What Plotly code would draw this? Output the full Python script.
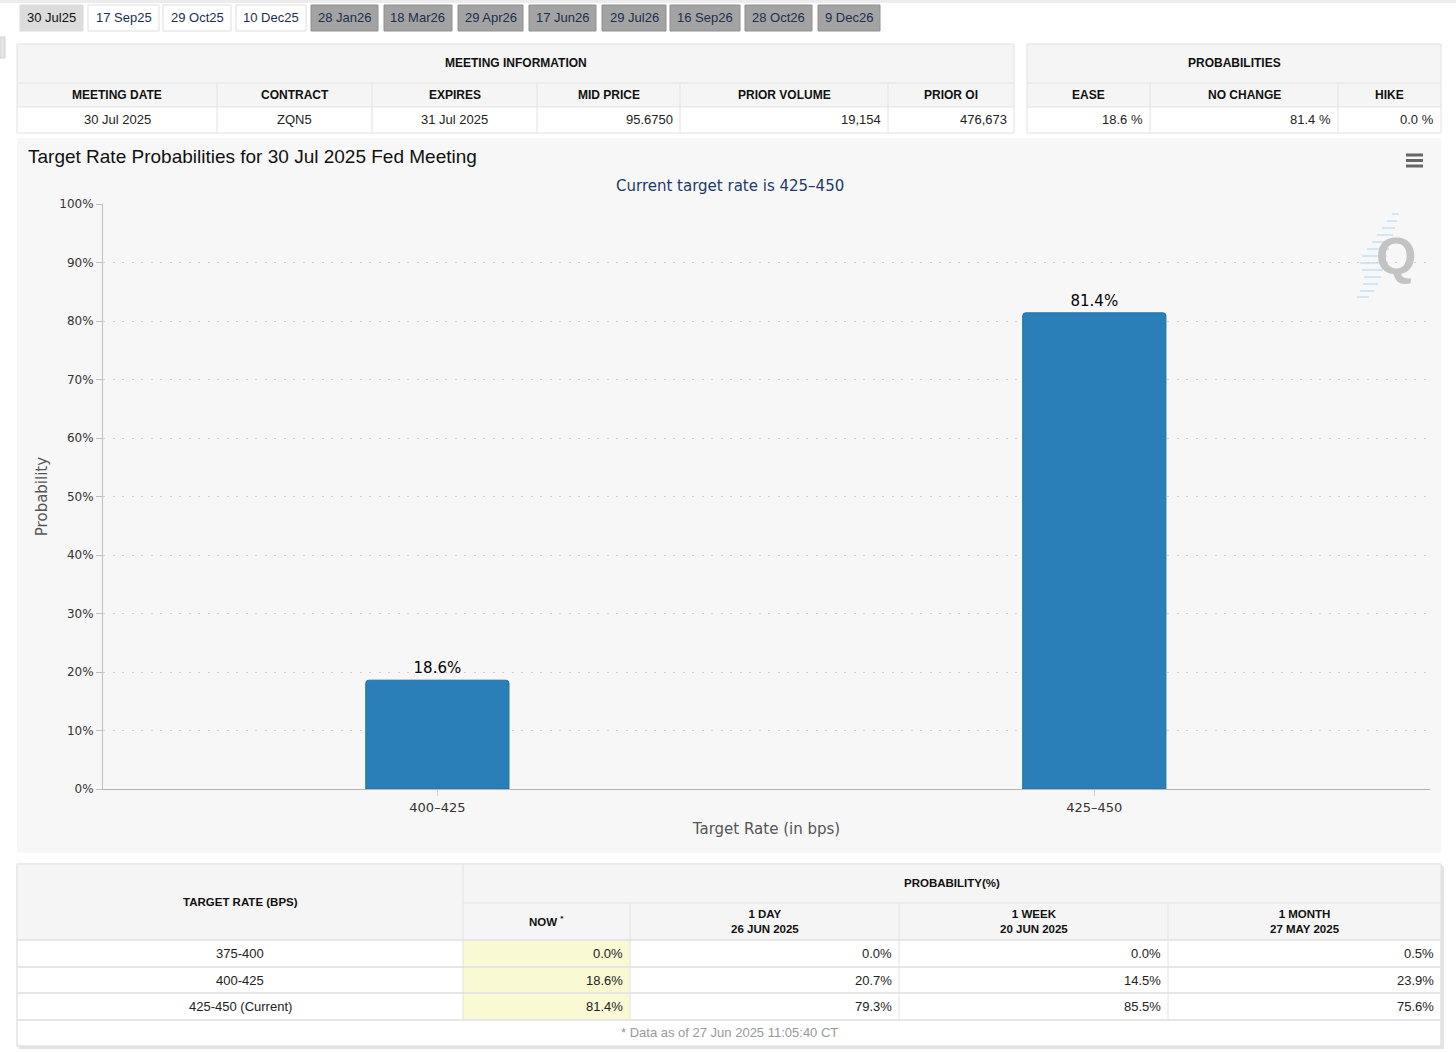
import plotly.graph_objects as go

W, H = 1456, 1052

# ---------------- data ----------------
meeting_tabs = ["30 Jul25", "17 Sep25", "29 Oct25", "10 Dec25", "28 Jan26", "18 Mar26",
                "29 Apr26", "17 Jun26", "29 Jul26", "16 Sep26", "28 Oct26", "9 Dec26"]
meeting_title = "MEETING INFORMATION"
meeting_headers = ["MEETING DATE", "CONTRACT", "EXPIRES", "MID PRICE", "PRIOR VOLUME", "PRIOR OI"]
meeting_values = ["30 Jul 2025", "ZQN5", "31 Jul 2025", "95.6750", "19,154", "476,673"]
prob_title = "PROBABILITIES"
prob_headers = ["EASE", "NO CHANGE", "HIKE"]
prob_values = [18.6, 81.4, 0.0]

chart_title = "Target Rate Probabilities for 30 Jul 2025 Fed Meeting"
chart_subtitle = "Current target rate is 425–450"
categories = ["400–425", "425–450"]
probabilities = [18.6, 81.4]
y_ticks = [0, 10, 20, 30, 40, 50, 60, 70, 80, 90, 100]
y_tick_labels = [f"{v}%" for v in y_ticks]

target_rates = ["375-400", "400-425", "425-450 (Current)"]
prob_now = [0.0, 18.6, 81.4]
prob_1day = [0.0, 20.7, 79.3]
prob_1week = [0.0, 14.5, 85.5]
prob_1month = [0.5, 23.9, 75.6]
period_headers = ["NOW <sup>*</sup>", "1 DAY<br>26 JUN 2025", "1 WEEK<br>20 JUN 2025", "1 MONTH<br>27 MAY 2025"]
footer_note = "* Data as of 27 Jun 2025 11:05:40 CT"

# ---------------- layout helpers ----------------
TXT = "Liberation Sans, Arial, sans-serif"
CH = "DejaVu Sans, Verdana, sans-serif"
shapes = []
annots = []


def X(px):
    return px / W


def Y(py):
    return 1 - py / H


def rect(x0, y0, x1, y1, fill, line="rgba(0,0,0,0)", lw=1, layer="below"):
    shapes.append(dict(type="rect", xref="paper", yref="paper", x0=X(x0), x1=X(x1),
                       y0=Y(y1), y1=Y(y0), fillcolor=fill, layer=layer,
                       line=dict(color=line, width=lw)))


def line(x0, y0, x1, y1, color, lw=1, layer="below"):
    shapes.append(dict(type="line", xref="paper", yref="paper", x0=X(x0), x1=X(x1),
                       y0=Y(y0), y1=Y(y1), layer=layer, line=dict(color=color, width=lw)))


def text(px, py, s, anchor="center", size=13, color="#222", family=TXT):
    annots.append(dict(xref="paper", yref="paper", x=X(px), y=Y(py), text=s, showarrow=False,
                       xanchor=anchor, yanchor="middle", font=dict(family=family, size=size, color=color)))


# top shadow line
rect(0, 0, W, 3, "#ececec")
# small left tab
rect(0, 37, 5, 58, "#e4e4e4", "#d0d0d0")

# ---------------- meeting tabs ----------------
tab_edges = [(20, 83), (88, 159), (163, 231), (236, 306), (311, 378), (384, 452),
             (458, 523), (529, 596), (602, 666), (670, 740), (745, 812), (818, 880)]
for i, (lab, (a, b)) in enumerate(zip(meeting_tabs, tab_edges)):
    if i == 0:
        fill, border, col = "#dcdcdc", "#dcdcdc", "#111"
    elif i <= 3:
        fill, border, col = "#ffffff", "#dedede", "#1b2f50"
    else:
        fill, border, col = "#a3a3a3", "#8f8f8f", "#1b2f50"
    rect(a, 5, b, 31, fill, border)
    text((a + b) / 2, 17, lab, size=13, color=col)

# ---------------- meeting info table ----------------
BORDER = "#e2e2e2"
HEAD = "#f5f5f5"
m_edges = [17, 217, 372, 537, 680, 888, 1014]
rect(17, 44, 1014, 83, HEAD)
rect(17, 83, 1014, 107, HEAD)
rect(17, 107, 1014, 133, "#ffffff")
rect(17, 44, 1014, 133, "rgba(0,0,0,0)", BORDER)
line(17, 83, 1014, 83, BORDER)
line(17, 107, 1014, 107, BORDER)
for e in m_edges[1:-1]:
    line(e, 83, e, 133, BORDER)
text((17 + 1014) / 2, 63, "<b>" + meeting_title + "</b>", size=12, color="#111")
for i, (h, v) in enumerate(zip(meeting_headers, meeting_values)):
    a, b = m_edges[i], m_edges[i + 1]
    text((a + b) / 2, 95, "<b>" + h + "</b>", size=12, color="#111")
    if i < 3:
        text((a + b) / 2, 120, v, size=13)
    else:
        text(b - 5, 120, v, anchor="right", size=13)

# ---------------- probabilities table ----------------
p_edges = [1027, 1150, 1338, 1441]
rect(1027, 44, 1441, 83, HEAD)
rect(1027, 83, 1441, 107, HEAD)
rect(1027, 107, 1441, 133, "#ffffff")
rect(1027, 44, 1441, 133, "rgba(0,0,0,0)", BORDER)
line(1027, 83, 1441, 83, BORDER)
line(1027, 107, 1441, 107, BORDER)
for e in p_edges[1:-1]:
    line(e, 83, e, 133, BORDER)
text((1027 + 1441) / 2, 63, "<b>" + prob_title + "</b>", size=12, color="#111")
for i, (h, v) in enumerate(zip(prob_headers, prob_values)):
    a, b = p_edges[i], p_edges[i + 1]
    text((a + b) / 2, 95, "<b>" + h + "</b>", size=12, color="#111")
    text(b - 5, 120, f"{v:.1f} %", anchor="right", size=13)

# ---------------- chart container ----------------
rect(17, 138, 1441, 853, "#f7f7f7")
text(26, 157, chart_title, anchor="left", size=19, color="#111")
text(730, 186, chart_subtitle, size=15, color="#1c3a6c", family=CH)
for yy in (155, 160.5, 166):
    line(1406, yy, 1423, yy, "#666", lw=3)

# watermark logo
streaks = [(1392, 1399, 214), (1387, 1397, 221), (1382, 1395, 228), (1377, 1393, 235),
           (1372, 1391, 242), (1367, 1389, 249), (1362, 1387, 256), (1360, 1385, 263),
           (1362, 1383, 270), (1364, 1381, 277), (1363, 1378, 284), (1360, 1374, 291),
           (1357, 1369, 297)]
for a, b, yy in streaks:
    line(a, yy, b, yy, "#cfe6f7", lw=2)
text(1396, 256, "<b>Q</b>", size=52, color="#c3c3c3", family=TXT)

# ---------------- bottom table ----------------
b_edges = [17, 463, 630, 899, 1168, 1441]
row_y = [940, 967, 993, 1020]
rect(19, 866, 1444, 1049, "#e4e4e4")  # shadow
rect(17, 864, 1441, 1046, "#ffffff", BORDER)
rect(17, 864, 1441, 940, HEAD)
for i in range(3):
    rect(463, row_y[i], 630, row_y[i + 1], "#f9f9d3")
rect(17, 864, 1441, 1046, "rgba(0,0,0,0)", BORDER)
line(463, 903, 1441, 903, BORDER)
for yy in row_y:
    line(17, yy, 1441, yy, "#e6e6e6", lw=2)
line(463, 864, 463, 1020, BORDER)
for e in b_edges[2:-1]:
    line(e, 903, e, 1020, BORDER)
text(240, 902, "<b>TARGET RATE (BPS)</b>", size=11.5, color="#111")
text((463 + 1441) / 2, 883, "<b>PROBABILITY(%)</b>", size=11.5, color="#111")
for i, h in enumerate(period_headers):
    a, b = b_edges[i + 1], b_edges[i + 2]
    text((a + b) / 2, 921, "<b>" + h + "</b>", size=11.5, color="#111")
cols = [prob_now, prob_1day, prob_1week, prob_1month]
for r, rate in enumerate(target_rates):
    cy = (row_y[r] + row_y[r + 1]) / 2
    text(240, cy, rate, size=13)
    for c, col in enumerate(cols):
        text(b_edges[c + 2] - 5, cy, f"{col[r]:.1f}%", anchor="right", size=13)
text(729, 1032, footer_note, size=13, color="#999")

# ---------------- figure ----------------
fig = go.Figure()
fig.add_trace(go.Bar(
    x=categories, y=probabilities,
    marker=dict(color="#2a7fb8", line=dict(color="#1f72aa", width=1), cornerradius=3),
    texttemplate="%{y:.1f}%", textposition="outside", cliponaxis=False,
    textfont=dict(family=CH, size=15, color="#000"),
    hoverinfo="skip",
))

fig.update_layout(
    width=W, height=H, autosize=False,
    margin=dict(l=0, r=0, t=0, b=0, pad=0, autoexpand=False),
    paper_bgcolor="#ffffff", plot_bgcolor="rgba(0,0,0,0)",
    showlegend=False, bargap=0.782,
    shapes=shapes, annotations=annots,
    xaxis=dict(
        domain=[X(103), X(1430)], type="category", range=[-0.509, 1.511],
        automargin=False,
        showline=True, linecolor="#b5b5b5", linewidth=1,
        ticks="outside", ticklen=6, tickcolor="#d0d0d0",
        showgrid=False, zeroline=False,
        tickfont=dict(family=CH, size=13, color="#333"),
        title=dict(text="Target Rate (in bps)", standoff=9,
                   font=dict(family=CH, size=15, color="#555")),
    ),
    yaxis=dict(
        domain=[Y(789), Y(204)], range=[0, 100],
        automargin=False,
        tickvals=y_ticks, ticktext=y_tick_labels,
        showline=True, linecolor="#c0c0c0", linewidth=1,
        ticks="outside", ticklen=6, tickcolor="#c0c0c0",
        showgrid=True, gridcolor="#cfcfcf", gridwidth=1, griddash="2px,7.5px",
        zeroline=False,
        tickfont=dict(family=CH, size=12, color="#333"),
        title=dict(text="Probability", standoff=8,
                   font=dict(family=CH, size=15, color="#555")),
    ),
)

fig.write_html("out.html", config={"displayModeBar": False},
               post_script="document.body.style.margin='0';document.body.style.overflow='hidden';")
